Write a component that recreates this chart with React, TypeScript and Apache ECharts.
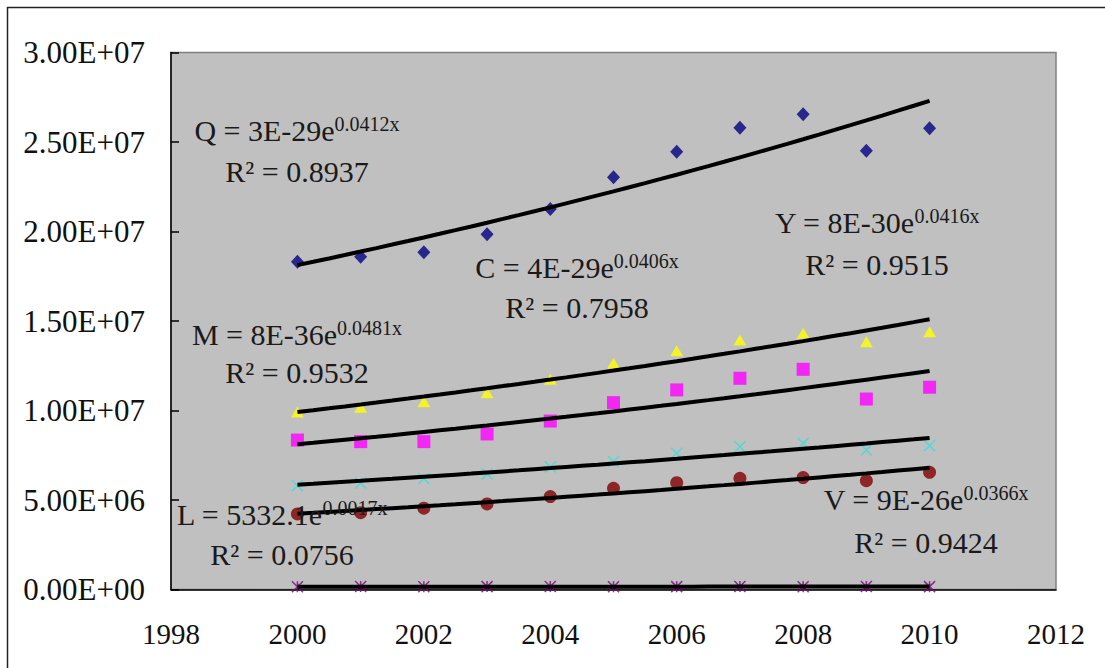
import React, { useEffect, useRef } from "react";
import * as echarts from "echarts";

// Years observed
const years = [2000, 2001, 2002, 2003, 2004, 2005, 2006, 2007, 2008, 2009, 2010];

// Observed values per series
const qValues = [18.31e6, 18.59e6, 18.84e6, 19.84e6, 21.26e6, 23.03e6, 24.46e6, 25.8e6, 26.55e6, 24.51e6, 25.77e6];
const yValues = [9.92e6, 10.18e6, 10.49e6, 10.99e6, 11.74e6, 12.64e6, 13.34e6, 13.94e6, 14.31e6, 13.84e6, 14.4e6];
const cValues = [8.35e6, 8.26e6, 8.26e6, 8.69e6, 9.41e6, 10.44e6, 11.15e6, 11.8e6, 12.3e6, 10.64e6, 11.3e6];
const vValues = [5.8e6, 5.95e6, 6.2e6, 6.45e6, 6.85e6, 7.15e6, 7.61e6, 7.98e6, 8.17e6, 7.79e6, 8.03e6];
const mValues = [4.22e6, 4.29e6, 4.54e6, 4.78e6, 5.19e6, 5.65e6, 5.97e6, 6.21e6, 6.25e6, 6.08e6, 6.55e6];
const lValues = [158000, 163000, 155000, 161000, 166000, 152000, 160000, 164000, 157000, 168000, 159000];

// Axis ranges
const xTicks = { min: 1998, max: 2012, interval: 2 };
const yTicks = { min: 0, max: 3e7, interval: 5e6 };

// Trendline equation labels
const eqNames = ["Q", "C", "Y", "M", "L", "V"];
const eqMain = ["Q = 3E-29e", "C = 4E-29e", "Y = 8E-30e", "M = 8E-36e", "L = 5332.1e", "V = 9E-26e"];
const eqExp = ["0.0412x", "0.0406x", "0.0416x", "0.0481x", "0.0017x", "0.0366x"];
const eqR2 = ["R² = 0.8937", "R² = 0.7958", "R² = 0.9515", "R² = 0.9532", "R² = 0.0756", "R² = 0.9424"];

const FONT = "'Liberation Serif', 'Times New Roman', serif";

const X_MARK = "path://M0,0L10,10M10,0L0,10";
const STAR_MARK = "path://M0,0L10,10M10,0L0,10M5,0L5,10";

// Least-squares exponential fit (linear regression on ln y)
function expFit(xs: number[], ys: number[]) {
  const n = xs.length;
  const x0 = xs[0];
  let sx = 0, sy = 0, sxx = 0, sxy = 0;
  for (let i = 0; i < n; i++) {
    const x = xs[i] - x0;
    const ly = Math.log(ys[i]);
    sx += x; sy += ly; sxx += x * x; sxy += x * ly;
  }
  const b = (n * sxy - sx * sy) / (n * sxx - sx * sx);
  const lnA = (sy - b * sx) / n;
  return (x: number) => Math.exp(lnA + b * (x - x0));
}

function trendPoints(values: number[]) {
  const f = expFit(years, values);
  const pts: number[][] = [];
  const start = years[0];
  const end = years[years.length - 1];
  for (let i = 0; i <= 40; i++) {
    const x = start + ((end - start) * i) / 40;
    pts.push([x, f(x)]);
  }
  return pts;
}

function formatSci(v: number) {
  if (v === 0) return "0.00E+00";
  const exp = Math.floor(Math.log10(v) + 1e-9);
  const mant = v / Math.pow(10, exp);
  return mant.toFixed(2) + "E+" + String(exp).padStart(2, "0");
}

const seriesDefs = [
  { name: "Q", values: qValues, symbol: "diamond", size: [13, 14], color: "#000080", stroke: false },
  { name: "Y", values: yValues, symbol: "triangle", size: [13, 11], color: "#FFFF00", stroke: false },
  { name: "C", values: cValues, symbol: "rect", size: 13, color: "#FF00FF", stroke: false },
  { name: "V", values: vValues, symbol: X_MARK, size: 11, color: "#33E0D8", stroke: true },
  { name: "M", values: mValues, symbol: "circle", size: 13, color: "#800000", stroke: false },
  { name: "L", values: lValues, symbol: STAR_MARK, size: 11, color: "#800080", stroke: true },
];

// Label anchor positions (centre x, centre y of each line)
const labelPos: Record<string, { cx: number; y1: number; y2: number }> = {
  Q: { cx: 297, y1: 130, y2: 171 },
  C: { cx: 577, y1: 267, y2: 307 },
  Y: { cx: 877, y1: 222, y2: 264 },
  M: { cx: 297, y1: 334, y2: 372 },
  L: { cx: 282, y1: 514, y2: 554 },
  V: { cx: 926, y1: 499, y2: 542 },
};

export default function App() {
  const ref = useRef<HTMLDivElement>(null);

  useEffect(() => {
    if (!ref.current) return;
    const chart = echarts.init(ref.current, undefined, { renderer: "svg" });

    const scatter = seriesDefs.map((d) => ({
      name: d.name,
      type: "scatter" as const,
      symbol: d.symbol,
      symbolSize: d.size,
      z: 2,
      silent: true,
      itemStyle: d.stroke
        ? { color: "none", borderColor: d.color, borderWidth: 1.5 }
        : { color: d.color },
      data: years.map((y, i) => [y, d.values[i]]),
    }));

    const trends = seriesDefs.map((d) => ({
      name: d.name + " trend",
      type: "line" as const,
      showSymbol: false,
      symbol: "none",
      smooth: false,
      z: 3,
      silent: true,
      lineStyle: { color: "#000000", width: 4 },
      data: trendPoints(d.values),
    }));

    const texts: any[] = [];
    eqNames.forEach((n, i) => {
      const p = labelPos[n];
      texts.push({
        type: "text",
        x: p.cx,
        y: p.y1,
        z: 10,
        silent: true,
        style: {
          text: `{m|${eqMain[i]}}{s|${eqExp[i]}}`,
          align: "center",
          verticalAlign: "middle",
          fontFamily: FONT,
          fill: "#1a1a1a",
          rich: {
            m: { fontSize: 30, lineHeight: 32, fontFamily: FONT, fill: "#1a1a1a" },
            s: { fontSize: 20, lineHeight: 18, verticalAlign: "top", fontFamily: FONT, fill: "#1a1a1a" },
          },
        },
      });
      texts.push({
        type: "text",
        x: p.cx,
        y: p.y2,
        z: 10,
        silent: true,
        style: {
          text: eqR2[i],
          align: "center",
          verticalAlign: "middle",
          fontFamily: FONT,
          fontSize: 30,
          fill: "#1a1a1a",
        },
      });
    });

    chart.setOption({
      animation: false,
      backgroundColor: "#ffffff",
      grid: {
        left: 171,
        top: 52.5,
        right: 49,
        bottom: 78.5,
        show: true,
        backgroundColor: "#C0C0C0",
        borderColor: "#808080",
        borderWidth: 1.5,
      },
      xAxis: {
        type: "value",
        min: xTicks.min,
        max: xTicks.max,
        interval: xTicks.interval,
        axisLine: { show: true, onZero: false, lineStyle: { color: "#000000", width: 1.5 } },
        axisTick: { show: false },
        splitLine: { show: false },
        axisLabel: {
          margin: 30,
          fontFamily: FONT,
          fontSize: 29,
          color: "#111111",
          formatter: (v: number) => String(v),
        },
      },
      yAxis: {
        type: "value",
        min: yTicks.min,
        max: yTicks.max,
        interval: yTicks.interval,
        axisLine: { show: true, lineStyle: { color: "#000000", width: 1.5 } },
        axisTick: { show: true, inside: true, length: 8, lineStyle: { color: "#000000", width: 1.5 } },
        splitLine: { show: false },
        axisLabel: {
          margin: 26,
          fontFamily: FONT,
          fontSize: 31,
          color: "#111111",
          formatter: (v: number) => formatSci(v),
        },
      },
      series: [...scatter, ...trends],
      graphic: [
        {
          type: "rect",
          silent: true,
          z: 0,
          shape: { x: 7.5, y: 7.5, width: 1300, height: 900 },
          style: { fill: "none", stroke: "#222222", lineWidth: 1.5 },
        },
        ...texts,
      ],
    });

    return () => chart.dispose();
  }, []);

  return (
    <div
      ref={ref}
      style={{ position: "fixed", left: 0, top: 0, width: 1105, height: 668 }}
    />
  );
}
